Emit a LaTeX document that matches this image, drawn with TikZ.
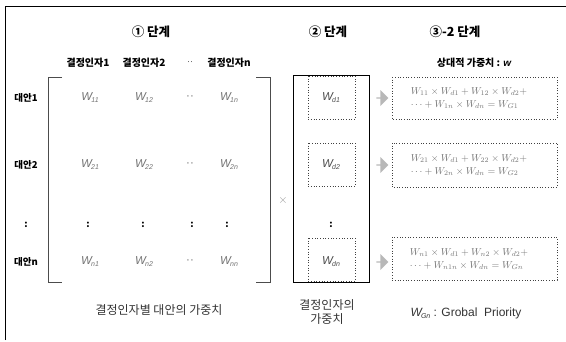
\documentclass[tikz,border=0pt]{standalone}
\usepackage{fontspec}
\setmainfont{Liberation Sans}
\newfontfamily\kr{Noto Sans CJK KR}
\usetikzlibrary{shapes.arrows}
\definecolor{wgray}{gray}{0.45}
\definecolor{fgray}{gray}{0.45}
\newcommand{\Wm}[1]{{\itshape W}\kern-0.8pt\raisebox{-2pt}{\fontsize{7}{7}\selectfont\itshape #1}}
\tikzset{
  head/.style={font=\kr\bfseries\fontsize{12.5}{14}\selectfont},
  colhead/.style={font=\kr\bfseries\fontsize{10}{12}\selectfont},
  rowlab/.style={font=\kr\bfseries\fontsize{9.5}{11}\selectfont},
  entry/.style={text=wgray, font=\fontsize{11.5}{12}\selectfont},
  dotbox/.style={draw=black!75, dotted, line width=0.7pt},
  garrow/.style={single arrow, draw=none, fill=black!28, minimum height=12pt, minimum width=16pt, single arrow head extend=2.5pt, inner sep=0pt},
  formula/.style={text=fgray, font=\fontsize{9.7}{13}\selectfont, align=left, inner sep=0pt},
  bottom/.style={font=\kr\fontsize{12}{15}\selectfont, text=black!80, align=center},
}
\begin{document}
\begin{tikzpicture}[x=1pt,y=-1pt]
\useasboundingbox (0,0) rectangle (566,341);
% outer frame (top and left)
\draw[line width=0.9pt] (5,340) -- (5,6.5) -- (566,6.5);

% headings
\node[head] (h1) at (151,32) {① 단계};
\node[head] (h2) at (328,32) {② 단계};
\node[head] (h3) at (455,32) {③-2 단계};

% column headers
\node[colhead] (c1) at (88,63) {결정인자1};
\node[colhead] (c2) at (144,63) {결정인자2};
\node[text=black!70, font=\fontsize{9}{9}\selectfont] (cd) at (190,63) {··};
\node[colhead] (cn) at (229,63) {결정인자n};
\node[colhead] (rel) at (474,63) {상대적 가중치 : {\rmfamily\bfseries\itshape w}};

% row labels
\node[rowlab] (r1) at (26,98) {대안1};
\node[rowlab] (r2) at (26,165) {대안2};
\node[rowlab] (rd) at (26,225) {\textbf{:}};
\node[rowlab] (rn) at (26,262) {대안n};

% matrix brackets
\draw[line width=0.9pt, black!70] (62,77) -- (48,77) -- (48,282) -- (62,282);
\draw[line width=0.9pt, black!70] (256,77) -- (270,77) -- (270,282) -- (256,282);

% matrix entries
\node[entry] (w11) at (90,98) {\Wm{11}};
\node[entry] (w12) at (144,98) {\Wm{12}};
\node[entry] (d1) at (190,98) {··};
\node[entry] (w1n) at (229,98) {\Wm{1n}};
\node[entry] (w21) at (90,165) {\Wm{21}};
\node[entry] (w22) at (144,165) {\Wm{22}};
\node[entry] (d2) at (190,165) {··};
\node[entry] (w2n) at (229,165) {\Wm{2n}};
\node[rowlab] (v1) at (88,225) {\textbf{:}};
\node[rowlab] (v2) at (143,225) {\textbf{:}};
\node[rowlab] (v3) at (192,225) {\textbf{:}};
\node[rowlab] (v4) at (227,225) {\textbf{:}};
\node[entry] (wn1) at (90,262) {\Wm{n1}};
\node[entry] (wn2) at (144,262) {\Wm{n2}};
\node[entry] (dn) at (190,262) {··};
\node[entry] (wnn) at (229,262) {\Wm{nn}};

% times
\node[text=black!40, font=\fontsize{13}{13}\selectfont] (x) at (283,200) {$\times$};

% stage 2 column
\draw[line width=0.9pt] (293,75) rectangle (369,282);
\draw[dotbox] (308,76) rectangle (355,119);
\draw[dotbox] (308,143) rectangle (355,186);
\draw[dotbox] (308,238) rectangle (355,281);
\node[entry, text=black!70] (wd1) at (331,98) {\Wm{d1}};
\node[entry, text=black!70] (wd2) at (331,165) {\Wm{d2}};
\node[rowlab] (wdd) at (331,225) {\textbf{:}};
\node[entry, text=black!70] (wdn) at (331,262) {\Wm{dn}};

% arrows
\node[garrow] (a1) at (382,98) {};
\node[garrow] (a2) at (382,165) {};
\node[garrow] (a3) at (382,262) {};

% stage 3 boxes
\draw[dotbox] (392,77) rectangle (557,119);
\draw[dotbox] (392,143) rectangle (557,187);
\draw[dotbox] (392,237) rectangle (557,280);
\node[formula] (f1) at (469,98) {$W_{11}\times W_{d1}+W_{12}\times W_{d2}+$\\$\cdots+W_{1n}\times W_{dn}=W_{G1}$};
\node[formula] (f2) at (469,165) {$W_{21}\times W_{d1}+W_{22}\times W_{d2}+$\\$\cdots+W_{2n}\times W_{dn}=W_{G2}$};
\node[formula] (f3) at (469,259) {$W_{n1}\times W_{d1}+W_{n2}\times W_{d2}+$\\$\cdots+W_{n1n}\times W_{dn}=W_{Gn}$};

% bottom labels
\node[bottom] (b1) at (159,310) {결정인자별 대안의 가중치};
\node[bottom, font=\kr\fontsize{12}{13.5}\selectfont] (b2) at (327,312) {결정인자의\\가중치};
\node[bottom, font=\fontsize{12}{14}\selectfont] (b3) at (466,313) {\Wm{Gn} : Grobal\ \ Priority};
\end{tikzpicture}
\end{document}
